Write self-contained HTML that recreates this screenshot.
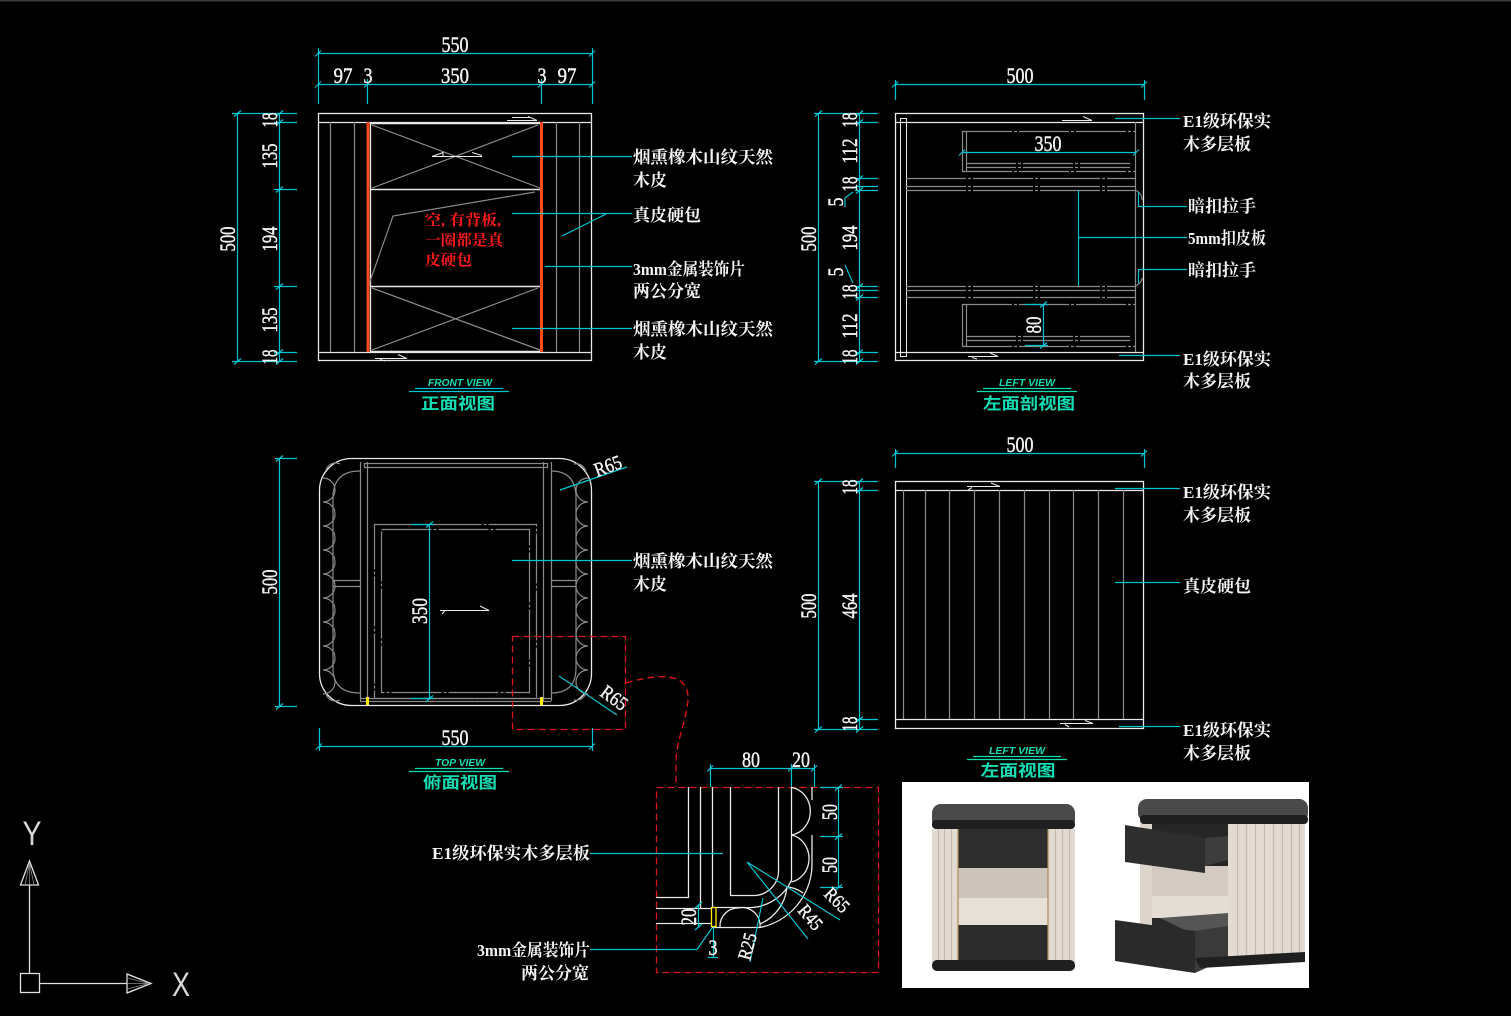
<!DOCTYPE html>
<html><head><meta charset="utf-8"><style>
html,body{margin:0;padding:0;background:#000;}
svg{display:block;}
.d{stroke:#00c4d2;fill:none;stroke-width:1.2}
.w{stroke:#e8e8e8;fill:none;stroke-width:1.3}
.g{stroke:#8a8a8a;fill:none;stroke-width:1.2}
.n{fill:#f2f2f2;stroke:#f2f2f2;stroke-width:0.45;font-family:"Liberation Serif",serif;font-size:22px}
.l{fill:#f4f4f4;font-family:"Liberation Serif","Noto Serif CJK SC",serif;font-size:17px;font-weight:bold}
.t{fill:#12dcb4;font-family:"Liberation Sans","Noto Sans CJK SC",sans-serif;font-size:16px;font-weight:bold}
.v{fill:#12dcb4;font-family:"Liberation Sans",sans-serif;font-size:10px;font-weight:bold;font-style:italic}
.r{fill:#ff1a1a;font-family:"Liberation Serif","Noto Serif CJK SC",serif;font-size:15px;font-weight:bold}
</style></head><body>
<svg width="1511" height="1016" viewBox="0 0 1511 1016" xmlns="http://www.w3.org/2000/svg">
<rect x="0" y="0" width="1511" height="1016" fill="#000"/>
<line x1="0" y1="0.7" x2="1511" y2="0.7" stroke="#3a3a3a" stroke-width="1.5"/>

<!-- ================= FRONT VIEW ================= -->
<g class="w">
<rect x="318.5" y="113.5" width="273" height="247"/>
<path d="M318 122.5 H592 M318 352.5 H592"/>
<path d="M371 123.5 H540 M371 189.5 H540 M371 286.5 H540 M371 351.5 H540" stroke-width="1.6"/>
<path d="M370.5 122 V352"/>
</g>
<g class="g">
<path d="M330.5 122 V352 M354.5 122 V352 M556.5 122 V352 M579.5 122 V352"/>
<path d="M372 125 L540 188 M538 125 L372 188 M372 288 L540 350 M538 288 L372 350"/>
<path d="M535 192 L393 216 L368 287"/>
</g>
<path d="M368 122 V352 M541.5 122 V352" stroke="#ff4a1a" stroke-width="3"/>
<g stroke="#e8e8e8" fill="none" stroke-width="1.1">
<path d="M507 120.5 H537 L528 116.5 M512 117.5 H530"/>
<path d="M432 156.5 H482 M432 156.5 L443 152.5 V156.5 M482 155.5 L472 152.5"/>
<path d="M375 358.5 H407 L398 354.5 M380 359.5 L385 361"/>
</g>
<!-- front dims -->
<g class="d">
<path d="M318 53.5 H592 M318 84.5 H592"/>
<path d="M318.5 48 V104 M592.5 48 V104 M367.5 79 V104 M541.5 79 V104"/>
<path d="M315 56.5 L321 50.5 M589 56.5 L595 50.5 M315 87.5 L321 81.5 M364 87.5 L370 81.5 M538 87.5 L544 81.5 M589 87.5 L595 81.5"/>
<path d="M237.5 113 V361 M279.5 113 V361"/>
<path d="M232 113.5 H297 M232 361.5 H297 M274 122.5 H297 M274 189.5 H297 M274 286.5 H297 M274 352.5 H297"/>
<path d="M234 116.5 L241 110.5 M234 364.5 L241 358.5 M276 116.5 L283 110.5 M276 125.5 L283 119.5 M276 192.5 L283 186.5 M276 289.5 L283 283.5 M276 355.5 L283 349.5 M276 364.5 L283 358.5"/>
<path d="M512 156.5 H632 M512 213.5 H632 M562 236 L606 214 M545 266.5 H632 M512 328.5 H632"/>
</g>
<g class="n">
<text x="455" y="52" text-anchor="middle" textLength="27" lengthAdjust="spacingAndGlyphs">550</text>
<text x="343" y="83" text-anchor="middle" textLength="19" lengthAdjust="spacingAndGlyphs">97</text>
<text x="368" y="83" text-anchor="middle" textLength="9" lengthAdjust="spacingAndGlyphs">3</text>
<text x="455" y="83" text-anchor="middle" textLength="28" lengthAdjust="spacingAndGlyphs">350</text>
<text x="542" y="83" text-anchor="middle" textLength="9" lengthAdjust="spacingAndGlyphs">3</text>
<text x="567" y="83" text-anchor="middle" textLength="19" lengthAdjust="spacingAndGlyphs">97</text>
<text transform="translate(235,239) rotate(-90)" text-anchor="middle" textLength="25" lengthAdjust="spacingAndGlyphs">500</text>
<text transform="translate(277,120) rotate(-90)" text-anchor="middle" textLength="15" lengthAdjust="spacingAndGlyphs">18</text>
<text transform="translate(277,156) rotate(-90)" text-anchor="middle" textLength="25" lengthAdjust="spacingAndGlyphs">135</text>
<text transform="translate(277,239) rotate(-90)" text-anchor="middle" textLength="25" lengthAdjust="spacingAndGlyphs">194</text>
<text transform="translate(277,320) rotate(-90)" text-anchor="middle" textLength="25" lengthAdjust="spacingAndGlyphs">135</text>
<text transform="translate(277,357) rotate(-90)" text-anchor="middle" textLength="15" lengthAdjust="spacingAndGlyphs">18</text>
</g>
<g class="r">
<text x="425" y="225" textLength="76" lengthAdjust="spacingAndGlyphs">空, 有背板,</text>
<text x="425" y="245" textLength="78" lengthAdjust="spacingAndGlyphs">一圈都是真</text>
<text x="425" y="265" textLength="47" lengthAdjust="spacingAndGlyphs">皮硬包</text>
</g>
<g class="l">
<text x="633" y="163" textLength="140" lengthAdjust="spacingAndGlyphs">烟熏橡木山纹天然</text>
<text x="633" y="186">木皮</text>
<text x="633" y="221">真皮硬包</text>
<text x="633" y="275" textLength="112" lengthAdjust="spacingAndGlyphs">3mm金属装饰片</text>
<text x="633" y="297">两公分宽</text>
<text x="633" y="335" textLength="140" lengthAdjust="spacingAndGlyphs">烟熏橡木山纹天然</text>
<text x="633" y="358">木皮</text>
</g>
<path d="M415 388.5 H503 M409 391.5 H509" class="d" stroke="#12dcb4"/>
<text x="460" y="386" text-anchor="middle" class="v" textLength="64" lengthAdjust="spacingAndGlyphs">FRONT VIEW</text>
<text x="458" y="409" text-anchor="middle" class="t" textLength="74" lengthAdjust="spacingAndGlyphs">正面视图</text>

<!-- ================= LEFT SECTION VIEW ================= -->
<g class="w">
<rect x="895.5" y="113.5" width="248" height="247"/>
<path d="M895 122.5 H1144 M895 352.5 H1144"/>
<rect x="900.5" y="118.5" width="6" height="238" stroke-width="1"/>
</g>
<g class="g">
<path d="M1135.5 122 V352"/>
<path d="M906 178.5 H1135 M906 186.5 H1135 M906 190.5 H1135" stroke-dasharray="60 2 3 2"/>
<path d="M906 286.5 H1135 M906 290.5 H1135 M906 297.5 H1135" stroke-dasharray="60 2 3 2"/>
<path d="M962.5 131 V171 M966.5 131 V171 M962 131.5 H1135 M966 163.5 H1130 M966 167.5 H1130 M962 171.5 H1135" stroke-dasharray="50 2 3 2"/>
<path d="M962.5 304 V346 M966.5 304 V346 M962 304.5 H1135 M966 336.5 H1130 M966 340.5 H1130 M962 346.5 H1135" stroke-dasharray="50 2 3 2"/>
<path d="M1135 190 Q1142 193 1142 200 M1135 286 Q1142 283 1142 278"/>
</g>
<g stroke="#e8e8e8" fill="none" stroke-width="1.1">
<path d="M1062 120.5 H1092 L1083 116.5"/>
<path d="M968 356.5 H998 L990 353 M972 357.5 L977 359"/>
</g>
<g class="d">
<path d="M895 84.5 H1144 M895.5 80 V100 M1144.5 80 V100 M892 87.5 L898 81.5 M1141 87.5 L1147 81.5"/>
<path d="M818.5 113 V361 M859.5 113 V361"/>
<path d="M814 113.5 H878 M814 361.5 H878 M855 122.5 H878 M855 178.5 H878 M855 186.5 H878 M855 190.5 H878 M855 286.5 H878 M855 290.5 H878 M855 297.5 H878 M855 352.5 H878"/>
<path d="M815 116.5 L822 110.5 M815 364.5 L822 358.5 M856 116.5 L863 110.5 M856 125.5 L863 119.5 M856 181.5 L863 175.5 M856 193.5 L863 187.5 M856 289.5 L863 283.5 M856 300.5 L863 294.5 M856 355.5 L863 349.5 M856 364.5 L863 358.5"/>
<path d="M853 192 L845 198 V207 M845 265 L853 283"/>
<path d="M962 152.5 H1136 M959 155.5 L965 149.5 M1133 155.5 L1139 149.5"/>
<path d="M1043.5 304 V345 M1025 304.5 H1048 M1025 345.5 H1048 M1040 307.5 L1047 301.5 M1040 348.5 L1047 342.5"/>
<path d="M1115 118.5 H1180 M1138.5 192 V206.5 H1187 M1078.5 190 V286 M1078 237.5 H1187 M1138.5 283 V269.5 H1187 M1119 355.5 H1180"/>
</g>
<g class="n">
<text x="1020" y="83" text-anchor="middle" textLength="27" lengthAdjust="spacingAndGlyphs">500</text>
<text x="1048" y="151" text-anchor="middle" textLength="27" lengthAdjust="spacingAndGlyphs">350</text>
<text transform="translate(1041,325) rotate(-90)" text-anchor="middle" textLength="17" lengthAdjust="spacingAndGlyphs">80</text>
<text transform="translate(816,239) rotate(-90)" text-anchor="middle" textLength="25" lengthAdjust="spacingAndGlyphs">500</text>
<text transform="translate(857,120) rotate(-90)" text-anchor="middle" textLength="15" lengthAdjust="spacingAndGlyphs">18</text>
<text transform="translate(857,151) rotate(-90)" text-anchor="middle" textLength="25" lengthAdjust="spacingAndGlyphs">112</text>
<text transform="translate(857,184) rotate(-90)" text-anchor="middle" textLength="15" lengthAdjust="spacingAndGlyphs">18</text>
<text transform="translate(843,202) rotate(-90)" text-anchor="middle" textLength="9" lengthAdjust="spacingAndGlyphs">5</text>
<text transform="translate(857,238) rotate(-90)" text-anchor="middle" textLength="25" lengthAdjust="spacingAndGlyphs">194</text>
<text transform="translate(843,272) rotate(-90)" text-anchor="middle" textLength="9" lengthAdjust="spacingAndGlyphs">5</text>
<text transform="translate(857,292) rotate(-90)" text-anchor="middle" textLength="15" lengthAdjust="spacingAndGlyphs">18</text>
<text transform="translate(857,326) rotate(-90)" text-anchor="middle" textLength="25" lengthAdjust="spacingAndGlyphs">112</text>
<text transform="translate(857,357) rotate(-90)" text-anchor="middle" textLength="15" lengthAdjust="spacingAndGlyphs">18</text>
</g>
<g class="l">
<text x="1183" y="127" textLength="88" lengthAdjust="spacingAndGlyphs">E1级环保实</text>
<text x="1183" y="150">木多层板</text>
<text x="1188" y="212">暗扣拉手</text>
<text x="1188" y="244" textLength="78" lengthAdjust="spacingAndGlyphs">5mm扣皮板</text>
<text x="1188" y="276">暗扣拉手</text>
<text x="1183" y="365" textLength="88" lengthAdjust="spacingAndGlyphs">E1级环保实</text>
<text x="1183" y="387">木多层板</text>
</g>
<path d="M983 388.5 H1071 M977 391.5 H1077" stroke="#12dcb4" stroke-width="1.2"/>
<text x="1027" y="386" text-anchor="middle" class="v" textLength="56" lengthAdjust="spacingAndGlyphs">LEFT VIEW</text>
<text x="1029" y="409" text-anchor="middle" class="t" textLength="92" lengthAdjust="spacingAndGlyphs">左面剖视图</text>

<!-- ================= TOP VIEW ================= -->
<g class="w">
<rect x="319.5" y="458.5" width="272" height="247" rx="32" ry="32"/>
</g>
<g class="g" stroke="#9a9a9a">
<path d="M360 471 Q333 471 333 498 V668 Q333 693 360 693"/>
<path d="M551 471 Q576 471 576 498 V668 Q576 693 551 693"/>
</g>
<g class="g" stroke="#6e6e6e" stroke-width="1">
<path d="M323 478 a12 12 0 0 1 0 24 a12 12 0 0 1 0 24 a12 12 0 0 1 0 24 a12 12 0 0 1 0 24 a12 12 0 0 1 0 24 a12 12 0 0 1 0 24 a12 12 0 0 1 0 24 a12 12 0 0 1 0 24 a12 12 0 0 1 0 24"/>
<path d="M588 478 a12 12 0 0 0 0 24 a12 12 0 0 0 0 24 a12 12 0 0 0 0 24 a12 12 0 0 0 0 24 a12 12 0 0 0 0 24 a12 12 0 0 0 0 24 a12 12 0 0 0 0 24 a12 12 0 0 0 0 24 a12 12 0 0 0 0 24"/>
<path d="M326 470 a10 10 0 0 1 14 -6 M574 464 a10 10 0 0 1 12 8 M326 694 a10 10 0 0 0 14 6 M574 700 a10 10 0 0 0 12 -8"/>
</g>
<g class="g" stroke="#b0b0b0">
<path d="M360.5 462 V701 M367.5 462 V701 M543.5 462 V701 M551.5 462 V701"/>
<path d="M333 580.5 H360 M333 586.5 H360 M551 580.5 H576 M551 586.5 H576"/>
<rect x="364.5" y="463.5" width="183" height="4"/>
<path d="M360 698.5 H551 M360 701.5 H551"/>
<rect x="374.5" y="524.5" width="162" height="174" stroke-dasharray="50 2 3 2"/>
<rect x="381.5" y="529.5" width="148" height="163" stroke-dasharray="50 2 3 2"/>
</g>
<rect x="366" y="697" width="3" height="8" fill="#ffee00"/>
<rect x="540" y="697" width="3" height="8" fill="#ffee00"/>
<path d="M440 610.5 H489 L480 606 M445 610.5 L442 614" stroke="#e8e8e8" fill="none" stroke-width="1.1"/>
<g class="d">
<path d="M279.5 458 V706 M275 458.5 H297 M275 706.5 H297 M276 461.5 L283 455.5 M276 709.5 L283 703.5"/>
<path d="M319 746.5 H592 M319.5 728 V751 M592.5 728 V751 M316 749.5 L322 743.5 M589 749.5 L595 743.5"/>
<path d="M429.5 524 V698 M411 524.5 H434 M411 698.5 H434 M426 527.5 L433 521.5 M426 701.5 L433 695.5"/>
<path d="M512 560.5 H632 M560 490 L627 467 M559 676 L617 715"/>
</g>
<g class="n">
<text transform="translate(277,582) rotate(-90)" text-anchor="middle" textLength="25" lengthAdjust="spacingAndGlyphs">500</text>
<text transform="translate(427,611) rotate(-90)" text-anchor="middle" textLength="26" lengthAdjust="spacingAndGlyphs">350</text>
<text x="455" y="745" text-anchor="middle" textLength="27" lengthAdjust="spacingAndGlyphs">550</text>
<text transform="translate(597,477) rotate(-20)" font-size="20" textLength="28" lengthAdjust="spacingAndGlyphs">R65</text>
<text transform="translate(599,695) rotate(36)" font-size="20" textLength="28" lengthAdjust="spacingAndGlyphs">R65</text>
</g>
<g class="l">
<text x="633" y="567" textLength="140" lengthAdjust="spacingAndGlyphs">烟熏橡木山纹天然</text>
<text x="633" y="590">木皮</text>
</g>
<path d="M415 768.5 H503 M409 771.5 H509" stroke="#12dcb4" stroke-width="1.2"/>
<text x="460" y="766" text-anchor="middle" class="v" textLength="50" lengthAdjust="spacingAndGlyphs">TOP VIEW</text>
<text x="460" y="788" text-anchor="middle" class="t" textLength="74" lengthAdjust="spacingAndGlyphs">俯面视图</text>

<!-- red dashed -->
<g stroke="#d81818" fill="none" stroke-width="1.3" stroke-dasharray="7 4">
<rect x="512.5" y="636.5" width="113" height="93"/>
<path d="M626 683 C650 676 690 668 688 700 C686 722 676 742 676 762 L676 787"/>
<rect x="656.5" y="787.5" width="222" height="185"/>
</g>

<!-- ================= LEFT VIEW ================= -->
<g class="w">
<rect x="895.5" y="481.5" width="248" height="247"/>
<path d="M895 490.5 H1144 M895 719.5 H1144"/>
</g>
<g class="g" stroke="#777">
<path d="M903.5 490 V719 M925.5 490 V719 M949.5 490 V719 M974.5 490 V719 M999.5 490 V719 M1024.5 490 V719 M1049.5 490 V719 M1073.5 490 V719 M1098.5 490 V719 M1123.5 490 V719"/>
</g>
<g stroke="#e8e8e8" fill="none" stroke-width="1.1">
<path d="M967 486.5 H1000 L991 483 M972 487.5 L968 490"/>
<path d="M1060 723.5 H1093 L1085 720.5 M1065 724.5 L1069 727"/>
</g>
<g class="d">
<path d="M895 453.5 H1144 M895.5 449 V468 M1144.5 449 V468 M892 456.5 L898 450.5 M1141 456.5 L1147 450.5"/>
<path d="M818.5 481 V729 M859.5 481 V729 M814 481.5 H878 M814 729.5 H878 M855 490.5 H878 M855 719.5 H878"/>
<path d="M815 484.5 L822 478.5 M815 732.5 L822 726.5 M856 484.5 L863 478.5 M856 493.5 L863 487.5 M856 722.5 L863 716.5 M856 732.5 L863 726.5"/>
<path d="M1115 488.5 H1180 M1115 582.5 H1180 M1119 726.5 H1180"/>
</g>
<g class="n">
<text x="1020" y="452" text-anchor="middle" textLength="27" lengthAdjust="spacingAndGlyphs">500</text>
<text transform="translate(816,606) rotate(-90)" text-anchor="middle" textLength="25" lengthAdjust="spacingAndGlyphs">500</text>
<text transform="translate(857,487) rotate(-90)" text-anchor="middle" textLength="15" lengthAdjust="spacingAndGlyphs">18</text>
<text transform="translate(857,606) rotate(-90)" text-anchor="middle" textLength="25" lengthAdjust="spacingAndGlyphs">464</text>
<text transform="translate(857,724) rotate(-90)" text-anchor="middle" textLength="15" lengthAdjust="spacingAndGlyphs">18</text>
</g>
<g class="l">
<text x="1183" y="498" textLength="88" lengthAdjust="spacingAndGlyphs">E1级环保实</text>
<text x="1183" y="521">木多层板</text>
<text x="1183" y="592">真皮硬包</text>
<text x="1183" y="736" textLength="88" lengthAdjust="spacingAndGlyphs">E1级环保实</text>
<text x="1183" y="759">木多层板</text>
</g>
<path d="M973 756.5 H1061 M967 759.5 H1067" stroke="#12dcb4" stroke-width="1.2"/>
<text x="1017" y="754" text-anchor="middle" class="v" textLength="56" lengthAdjust="spacingAndGlyphs">LEFT VIEW</text>
<text x="1018" y="776" text-anchor="middle" class="t" textLength="75" lengthAdjust="spacingAndGlyphs">左面视图</text>

<!-- ================= DETAIL ================= -->
<g class="w" stroke="#d8d8d8" stroke-width="1.2">
<path d="M688.5 787 V897.5 H656"/>
<path d="M700.5 787 V908"/>
<path d="M712.5 787 V908"/>
<path d="M730.5 787 V895.5 H753 A25 25 0 0 0 778.5 869 V787"/>
<path d="M791.5 787 V880 A47 47 0 0 1 745 907.5 H712"/>
<path d="M656 908.5 H712 M656 923.5 H712 M712 927.5 H760 A65 65 0 0 0 812 863"/>
<path d="M791.5 787.5 A22 24 0 0 1 791.5 835 A22 24 0 0 1 791.5 882"/>
<path d="M812 863 V835 M812 787 V800"/>
<path d="M720 927 A18 18 0 0 1 738 908 A18 18 0 0 1 760 927"/>
<path d="M787 887 A45 45 0 0 1 760 924 M803 893 A30 30 0 0 0 787 887"/>
</g>
<rect x="711.5" y="907.5" width="4.5" height="19" fill="none" stroke="#ffee00" stroke-width="1.3"/>
<g class="d">
<path d="M710 768.5 H814 M710.5 764 V787 M791.5 764 V787 M814.5 764 V787 M707 771.5 L713 765.5 M788 771.5 L794 765.5 M811 771.5 L817 765.5"/>
<path d="M838.5 787 V887 M820 787.5 H843 M820 836.5 H843 M820 887.5 H843 M835 790.5 L842 784.5 M835 839.5 L842 833.5 M835 890.5 L842 884.5"/>
<path d="M747 862 L840 920 M747 862 L808 939 M763 898 L750 962"/>
<path d="M698.5 905 V927 M695 908 L702 902 M695 930 L702 924"/>
<path d="M713.5 927 V957 M708 957.5 H718"/>
<path d="M590 853.5 H723 M590 949.5 H697 L712 928"/>
</g>
<g class="n">
<text x="751" y="767" text-anchor="middle" textLength="18" lengthAdjust="spacingAndGlyphs">80</text>
<text x="801" y="767" text-anchor="middle" textLength="18" lengthAdjust="spacingAndGlyphs">20</text>
<text transform="translate(837,812) rotate(-90)" text-anchor="middle" textLength="16" lengthAdjust="spacingAndGlyphs">50</text>
<text transform="translate(837,865) rotate(-90)" text-anchor="middle" textLength="16" lengthAdjust="spacingAndGlyphs">50</text>
<text transform="translate(696,917) rotate(-90)" text-anchor="middle" textLength="17" lengthAdjust="spacingAndGlyphs">20</text>
<text x="713" y="955" text-anchor="middle" textLength="9" lengthAdjust="spacingAndGlyphs">3</text>
<text transform="translate(823,895) rotate(45)" font-size="19" textLength="27" lengthAdjust="spacingAndGlyphs">R65</text>
<text transform="translate(797,911) rotate(50)" font-size="19" textLength="27" lengthAdjust="spacingAndGlyphs">R45</text>
<text transform="translate(750,961) rotate(-75)" font-size="19" textLength="27" lengthAdjust="spacingAndGlyphs">R25</text>
</g>
<g class="l">
<text x="432" y="859" textLength="158" lengthAdjust="spacingAndGlyphs">E1级环保实木多层板</text>
<text x="477" y="956" textLength="113" lengthAdjust="spacingAndGlyphs">3mm金属装饰片</text>
<text x="521" y="979">两公分宽</text>
</g>

<!-- ================= PHOTO ================= -->
<rect x="902" y="782" width="407" height="206" fill="#ffffff"/>
<!-- left nightstand -->
<rect x="932" y="829" width="143" height="136" fill="#e3dbd2"/>
<g stroke="#c2b8ad" stroke-width="1.2">
<path d="M938.5 829 V963 M944.5 829 V963 M951.5 829 V963 M1055.5 829 V963 M1062.5 829 V963 M1069.5 829 V963"/>
</g>
<rect x="958" y="829" width="90" height="40" fill="#2d2d2d"/>
<rect x="958" y="868" width="90" height="31" fill="#cdc5bc"/>
<rect x="958" y="898" width="90" height="27" fill="#e6e0d9"/>
<rect x="958" y="925" width="90" height="39" fill="#2b2b2b"/>
<path d="M958 829 V964 M1048 829 V964" stroke="#b08a50" stroke-width="1.2"/>
<rect x="932" y="804" width="143" height="25" rx="9" fill="#4a4a4a"/>
<rect x="932" y="820" width="143" height="9" rx="4" fill="#1f1f1f"/>
<rect x="932" y="960" width="143" height="11" rx="5" fill="#1f1f1f"/>
<!-- right nightstand -->
<rect x="1140" y="822" width="12" height="128" fill="#ddd5cc"/>
<rect x="1152" y="822" width="76" height="45" fill="#262626"/>
<rect x="1152" y="866" width="76" height="30" fill="#d3cbc2"/>
<polygon points="1152,896 1228,896 1228,918 1152,922" fill="#e4ddd5"/>
<rect x="1152" y="918" width="76" height="40" fill="#2a2a2a"/>
<rect x="1228" y="822" width="77" height="138" fill="#e3dbd2"/>
<g stroke="#c2b8ad" stroke-width="1.2">
<path d="M1237.5 822 V958 M1246.5 822 V958 M1255.5 822 V958 M1264.5 822 V958 M1273.5 822 V958 M1282.5 822 V958 M1291.5 822 V958 M1299.5 822 V958"/>
</g>
<polygon points="1205,838 1228,836 1228,860 1205,866" fill="#3d3d3d"/>
<polygon points="1125,825 1205,838 1205,873 1125,862" fill="#2e2e2e"/>
<polygon points="1160,918 1228,913 1228,930 1195,935" fill="#555"/>
<polygon points="1115,920 1195,931 1195,973 1115,961" fill="#2a2a2a"/>
<polygon points="1195,931 1228,926 1228,958 1195,973" fill="#3a3a3a"/>
<rect x="1138" y="799" width="170" height="23" rx="9" fill="#4a4a4a"/>
<rect x="1140" y="815" width="168" height="9" rx="4" fill="#1f1f1f"/>
<polygon points="1195,958 1305,952 1305,962 1200,968" fill="#1f1f1f"/>

<!-- ================= UCS ICON ================= -->
<g stroke="#e0e0e0" fill="none" stroke-width="1.3">
<rect x="20.5" y="973.5" width="19" height="19"/>
<path d="M29.5 973 V885"/>
<polygon points="29.5,861 20.5,885 38.5,885"/>
<path d="M29.5 863 L25 885 M29.5 863 V885 M29.5 863 L34 885" stroke-width="0.8" stroke="#888"/>
<path d="M39 983.5 H127"/>
<polygon points="151,983.5 127,974 127,993"/>
<path d="M149 983.5 L127 978 M149 983.5 H127 M149 983.5 L127 989" stroke-width="0.8" stroke="#888"/>
</g>
<text x="32" y="845" text-anchor="middle" font-family="Liberation Sans, sans-serif" font-size="34" fill="#d8d8d8" textLength="19" lengthAdjust="spacingAndGlyphs">Y</text>
<text x="181" y="996" text-anchor="middle" font-family="Liberation Sans, sans-serif" font-size="34" fill="#d8d8d8" textLength="18" lengthAdjust="spacingAndGlyphs">X</text>
</svg>
</body></html>
